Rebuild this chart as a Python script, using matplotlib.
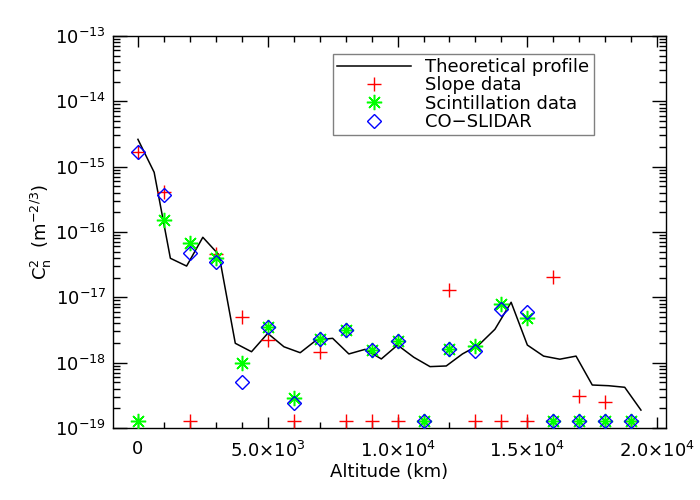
import matplotlib
matplotlib.use("Agg")
import matplotlib.pyplot as plt
from matplotlib.ticker import FixedLocator, FixedFormatter, LogLocator, NullFormatter
from matplotlib.lines import Line2D

plt.rcParams['font.family'] = ['DejaVu Sans']
plt.rcParams['mathtext.fontset'] = 'dejavusans'
plt.rcParams['mathtext.default'] = 'regular'

# Data
altitudes = [0, 1000, 2000, 3000, 4000, 5000, 6000, 7000, 8000, 9000,
             10000, 11000, 12000, 13000, 14000, 15000, 16000, 17000, 18000, 19000]
slope = [1.66e-15, 4.05e-16, 1.3e-19, 4.6e-17, 5.05e-18, 2.22e-18, 1.3e-19, 1.47e-18, 1.3e-19, 1.3e-19,
         1.3e-19, 1.3e-19, 1.28e-17, 1.3e-19, 1.3e-19, 1.3e-19, 2.07e-17, 3.1e-19, 2.47e-19, 1.3e-19]
scint = [1.3e-19, 1.53e-16, 6.87e-17, 4.04e-17, 1.0e-18, 3.48e-18, 2.85e-19, 2.28e-18, 3.16e-18, 1.56e-18,
         2.14e-18, 1.3e-19, 1.6e-18, 1.82e-18, 7.9e-18, 4.77e-18, 1.3e-19, 1.3e-19, 1.3e-19, 1.3e-19]
coslidar = [1.66e-15, 3.68e-16, 4.72e-17, 3.51e-17, 5.0e-19, 3.48e-18, 2.44e-19, 2.28e-18, 3.16e-18, 1.56e-18,
            2.14e-18, 1.3e-19, 1.6e-18, 1.52e-18, 6.6e-18, 6.0e-18, 1.3e-19, 1.3e-19, 1.3e-19, 1.3e-19]

theory_alt = [0, 625, 1250, 1875, 2500, 3125, 3750, 4375, 5000, 5625, 6250, 6875, 7500, 8125, 8750, 9375,
              10000, 10625, 11250, 11875, 12500, 13125, 13750, 14375, 15000, 15625, 16250, 16875, 17500,
              18125, 18750, 19375]
theory = [2.62e-15, 8.2e-16, 3.96e-17, 3.01e-17, 8.3e-17, 4.45e-17, 1.98e-18, 1.47e-18, 2.81e-18, 1.75e-18,
          1.42e-18, 2.22e-18, 2.36e-18, 1.36e-18, 1.60e-18, 1.14e-18, 1.86e-18, 1.21e-18, 8.7e-19, 8.9e-19,
          1.36e-18, 1.86e-18, 3.24e-18, 8.4e-18, 1.86e-18, 1.26e-18, 1.13e-18, 1.26e-18, 4.55e-19, 4.44e-19,
          4.2e-19, 1.88e-19]

xtick_vals = [0, 5000, 10000, 15000, 20000]
xtick_labels = ['0', '5.0\u00d710$^{3}$', '1.0\u00d710$^{4}$', '1.5\u00d710$^{4}$', '2.0\u00d710$^{4}$']
ytick_vals = [1e-19, 1e-18, 1e-17, 1e-16, 1e-15, 1e-14, 1e-13]
ytick_labels = ['10$^{-19}$', '10$^{-18}$', '10$^{-17}$', '10$^{-16}$', '10$^{-15}$', '10$^{-14}$', '10$^{-13}$']
legend_labels = ['Theoretical profile', 'Slope data', 'Scintillation data', 'CO\u2212SLIDAR']

FS = 13

fig = plt.figure(figsize=(7, 5), dpi=100)
ax = fig.add_axes([113/700, 1-428/500, (666-113)/700, (428-36)/500])

asterisk = (8, 2, 0)
ax.plot(theory_alt, theory, color='black', lw=1.1, zorder=2)
ax.plot(altitudes, slope, ls='none', marker='+', ms=9.5, mew=1.0, color='red', zorder=3)
ax.plot(altitudes, scint, ls='none', marker=asterisk, ms=11, mew=1.1, color='#00ff00', zorder=4)
ax.plot(altitudes, coslidar, ls='none', marker='D', ms=7.3, mew=1.0, mfc='none', mec='blue', zorder=5)

ax.set_yscale('log')
ax.set_ylim(1e-19, 1e-13)
ax.set_xlim(-960, 20340)

ax.xaxis.set_major_locator(FixedLocator(xtick_vals))
ax.xaxis.set_major_formatter(FixedFormatter(xtick_labels))
ax.xaxis.set_minor_locator(FixedLocator(list(range(0, 20001, 1000))))
ax.yaxis.set_major_locator(FixedLocator(ytick_vals))
ax.yaxis.set_major_formatter(FixedFormatter(ytick_labels))
ax.yaxis.set_minor_locator(LogLocator(base=10, subs=range(2, 10), numticks=20))
ax.yaxis.set_minor_formatter(NullFormatter())

ax.tick_params(which='both', direction='in', top=True, right=True, labelsize=FS, width=1.0)
ax.tick_params(axis='x', which='major', length=8, pad=9)
ax.tick_params(axis='x', which='minor', length=4)
ax.tick_params(axis='y', which='major', length=10, pad=5)
ax.tick_params(axis='y', which='minor', length=5)
for sp in ax.spines.values():
    sp.set_linewidth(1.0)

ax.set_xlabel('Altitude (km)', fontsize=FS, labelpad=2)
ax.set_ylabel('C$_{n}^{2}$  (m$^{-2/3}$)', fontsize=FS, labelpad=1)

handles = [
    Line2D([], [], color='black', lw=1.1),
    Line2D([], [], ls='none', marker='+', ms=9.5, mew=1.0, color='red'),
    Line2D([], [], ls='none', marker=asterisk, ms=11, mew=1.1, color='#00ff00'),
    Line2D([], [], ls='none', marker='D', ms=7.3, mew=1.0, mfc='none', mec='blue'),
]
leg = ax.legend(handles, legend_labels, loc='upper left', bbox_to_anchor=(333/700, 1-54/500),
                bbox_transform=fig.transFigure, fontsize=FS, frameon=True, fancybox=False,
                edgecolor='#808080', framealpha=1, handlelength=4.1, handletextpad=0.8,
                labelspacing=0.02, borderpad=0.22, numpoints=1, borderaxespad=0)
leg.get_frame().set_linewidth(1.0)

fig.savefig('out.png', dpi=100)
